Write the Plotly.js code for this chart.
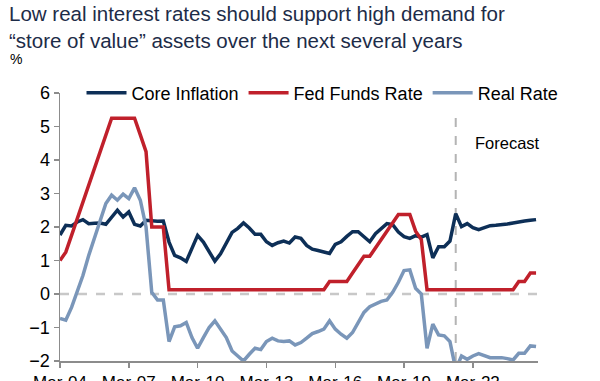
<!DOCTYPE html>
<html>
<head>
<meta charset="utf-8">
<script src="https://cdn.plot.ly/plotly-3.0.1.min.js"></script>
<style>html,body{margin:0;padding:0;background:#fff;}#chart{width:600px;height:381px;}</style>
</head>
<body>
<div id="chart"></div>
<script>
// Quarterly observations, Mar-04 .. Dec-24
const startYear = 2004;
const nQuarters = 84;
const quarters = [];
for (let i = 0; i < nQuarters; i++) {
  const y = startYear + Math.floor((i) / 4);
  const m = [3, 6, 9, 12][i % 4];
  quarters.push(y + '-' + String(m).padStart(2, '0') + '-01');
}

const coreInflation = [
  1.76, 2.05, 2.03, 2.15, 2.22, 2.10, 2.11, 2.12, 2.08, 2.31,
  2.50, 2.30, 2.45, 2.08, 2.03, 2.20, 2.18, 2.17, 2.18, 1.55,
  1.15, 1.08, 0.97, 1.38, 1.75, 1.55, 1.25, 0.98, 1.20, 1.50,
  1.84, 1.96, 2.12, 1.97, 1.78, 1.78, 1.56, 1.45, 1.53, 1.58,
  1.52, 1.70, 1.66, 1.45, 1.34, 1.30, 1.26, 1.21, 1.48, 1.56,
  1.72, 1.86, 1.86, 1.70, 1.56, 1.80, 1.96, 2.10, 2.07, 1.85,
  1.71, 1.66, 1.74, 1.70, 1.77, 1.08, 1.41, 1.41, 1.58, 2.40,
  2.01, 2.10, 1.98, 1.92, 1.98, 2.04, 2.05, 2.06, 2.09, 2.12,
  2.16, 2.18, 2.20, 2.22
];

const fedFunds = [
  1.00, 1.25, 1.75, 2.25, 2.75, 3.25, 3.75, 4.25, 4.75, 5.25,
  5.25, 5.25, 5.25, 5.25, 4.75, 4.25, 2.00, 2.00, 2.00, 0.125,
  0.125, 0.125, 0.125, 0.125, 0.125, 0.125, 0.125, 0.125, 0.125, 0.125,
  0.125, 0.125, 0.125, 0.125, 0.125, 0.125, 0.125, 0.125, 0.125, 0.125,
  0.125, 0.125, 0.125, 0.125, 0.125, 0.125, 0.125, 0.375, 0.375, 0.375,
  0.375, 0.625, 0.875, 1.125, 1.125, 1.375, 1.625, 1.875, 2.125, 2.375,
  2.375, 2.375, 1.875, 1.625, 0.125, 0.125, 0.125, 0.125, 0.125, 0.125,
  0.125, 0.125, 0.125, 0.125, 0.125, 0.125, 0.125, 0.125, 0.125, 0.125,
  0.375, 0.375, 0.625, 0.625
];

const realRate = [
  -0.73, -0.78, -0.40, 0.10, 0.55, 1.15, 1.65, 2.15, 2.70, 2.95,
  2.80, 2.98, 2.85, 3.17, 2.80, 2.00, 0.05, -0.18, -0.18, -1.42,
  -0.98, -0.95, -0.85, -1.30, -1.62, -1.30, -1.00, -0.80, -1.05, -1.30,
  -1.70, -1.85, -2.00, -1.80, -1.62, -1.66, -1.42, -1.32, -1.40, -1.42,
  -1.40, -1.52, -1.45, -1.32, -1.18, -1.12, -1.05, -0.80, -1.05, -1.20,
  -1.32, -1.15, -0.85, -0.55, -0.38, -0.30, -0.22, -0.18, 0.05, 0.35,
  0.70, 0.72, 0.17, 0.00, -1.62, -0.90, -1.22, -1.25, -1.42, -2.25,
  -1.85, -1.95, -1.85, -1.78, -1.85, -1.90, -1.90, -1.90, -1.93, -1.97,
  -1.77, -1.77, -1.55, -1.57
];

const tickDates = ['2004-03-01', '2007-03-01', '2010-03-01', '2013-03-01', '2016-03-01', '2019-03-01', '2022-03-01'];
const tickLabels = ['Mar-04', 'Mar-07', 'Mar-10', 'Mar-13', 'Mar-16', 'Mar-19', 'Mar-22'];
const forecastStart = '2021-06-01';

const FONT = 'Liberation Sans, Arial, sans-serif';

const traces = [
  {x: quarters, y: coreInflation, name: 'Core Inflation', type: 'scatter', mode: 'lines',
   line: {color: '#0d2f57', width: 3.5}},
  {x: quarters, y: fedFunds, name: 'Fed Funds Rate', type: 'scatter', mode: 'lines',
   line: {color: '#c0202b', width: 3.5}},
  {x: quarters, y: realRate, name: 'Real Rate', type: 'scatter', mode: 'lines',
   line: {color: '#7a96b9', width: 3.5}}
];

const layout = {
  width: 600, height: 381,
  margin: {l: 60, r: 62, t: 93, b: 20},
  paper_bgcolor: '#fff', plot_bgcolor: '#fff',
  font: {family: FONT, color: '#000', size: 17},
  title: {
    text: 'Low real interest rates should support high demand for<br>\u201cstore of value\u201d assets over the next several years',
    x: 9 / 600, xanchor: 'left', xref: 'container',
    y: 1 - 21 / 381, yanchor: 'middle', yref: 'container',
    font: {family: FONT, size: 20.5, color: '#1d2c48'}
  },
  showlegend: true,
  legend: {
    orientation: 'h', x: 0.045, xanchor: 'left', y: 1.0, yanchor: 'middle',
    bgcolor: '#fff', font: {family: FONT, size: 18, color: '#000'},
    itemwidth: 40, tracegroupgap: 0
  },
  xaxis: {
    type: 'date',
    range: ['2004-03-01', '2025-01-01'],
    tickvals: tickDates, ticktext: tickLabels,
    showgrid: false, zeroline: false,
    showline: true, linecolor: '#8c8c8c', linewidth: 1.5,
    ticks: 'outside', ticklen: 5, tickcolor: '#8c8c8c', tickwidth: 1.5,
    tickfont: {family: FONT, size: 17, color: '#000'}
  },
  yaxis: {
    range: [-2, 6], dtick: 1,
    showgrid: false, zeroline: false,
    showline: true, linecolor: '#8c8c8c', linewidth: 1.5,
    ticks: 'outside', ticklen: 5, tickcolor: '#8c8c8c', tickwidth: 1.5,
    tickfont: {family: FONT, size: 18, color: '#000'}
  },
  shapes: [
    {type: 'line', xref: 'paper', x0: 0, x1: 1, yref: 'y', y0: 0, y1: 0,
     line: {color: '#c8c8c8', width: 2.5, dash: 'dash'}, layer: 'below'},
    {type: 'line', xref: 'x', x0: forecastStart, x1: forecastStart, yref: 'paper', y0: 0, y1: 0.944,
     line: {color: '#b4b4b4', width: 2, dash: 'dash'}, layer: 'below'}
  ],
  annotations: [
    {text: '%', xref: 'paper', yref: 'paper', x: -52 / 478, y: 1 + (93 - 59) / 268,
     xanchor: 'left', yanchor: 'middle', showarrow: false,
     font: {family: FONT, size: 14, color: '#000'}},
    {text: 'Forecast', xref: 'x', yref: 'y', x: '2022-03-01', y: 4.5,
     xanchor: 'left', yanchor: 'middle', showarrow: false,
     font: {family: FONT, size: 16.5, color: '#000'}}
  ]
};

Plotly.newPlot('chart', traces, layout, {displayModeBar: false, staticPlot: true});
</script>
</body>
</html>
